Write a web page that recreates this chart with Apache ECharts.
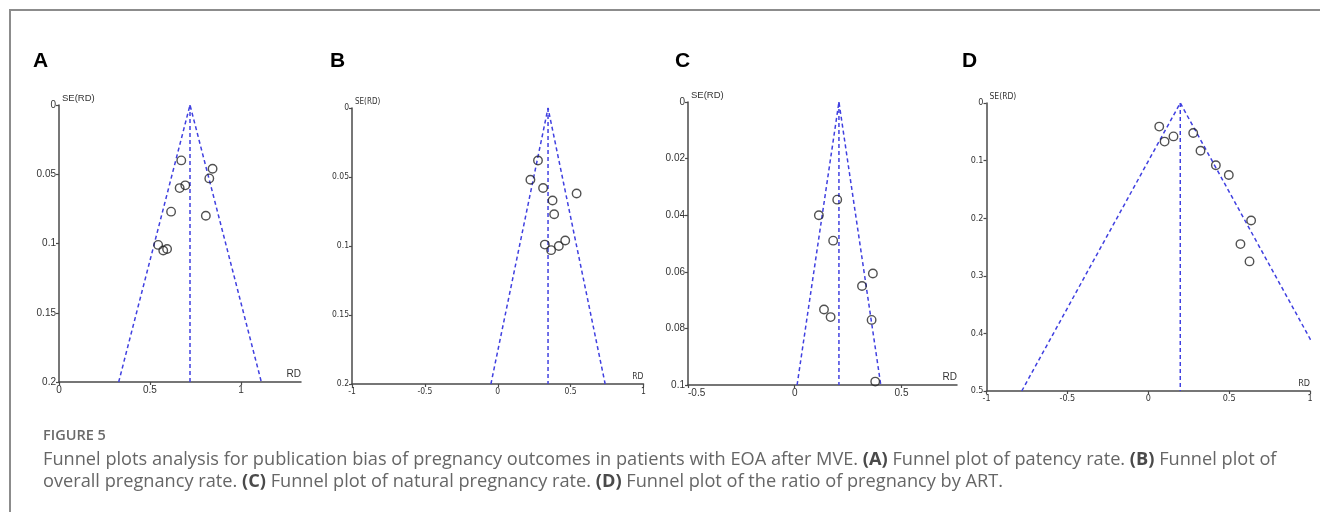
<!DOCTYPE html>
<html>
<head>
<meta charset="utf-8">
<script src="https://cdn.jsdelivr.net/npm/echarts@6/dist/echarts.min.js"></script>
<style>
html,body{margin:0;padding:0;background:#fff;}
#chart{width:1320px;height:512px;}
</style>
</head>
<body>
<div id="chart"></div>
<script>
// ---- Data ----
const panelLetters = ['A', 'B', 'C', 'D'];

const rdA = [0.672, 0.844, 0.826, 0.663, 0.694, 0.616, 0.807, 0.545, 0.573, 0.594];
const seA = [0.040, 0.046, 0.053, 0.060, 0.058, 0.077, 0.080, 0.101, 0.105, 0.104];

const rdB = [0.276, 0.224, 0.311, 0.376, 0.541, 0.387, 0.323, 0.366, 0.419, 0.463];
const seB = [0.038, 0.052, 0.058, 0.067, 0.062, 0.077, 0.099, 0.103, 0.100, 0.096];

const rdC = [0.199, 0.113, 0.180, 0.366, 0.315, 0.137, 0.168, 0.360, 0.377];
const seC = [0.0345, 0.040, 0.049, 0.0606, 0.065, 0.0733, 0.076, 0.077, 0.0988];

const rdD = [0.068, 0.101, 0.156, 0.278, 0.323, 0.418, 0.498, 0.636, 0.570, 0.626];
const seD = [0.041, 0.067, 0.058, 0.052, 0.083, 0.108, 0.125, 0.204, 0.245, 0.275];

const pooledRD = [0.72, 0.345, 0.207, 0.198];

const xMin = [0, -1, -0.5, -1];
const xMax = [1.33, 1, 0.76, 1];
const xInterval = [0.5, 0.5, 0.5, 0.5];
const yMax = [0.2, 0.2, 0.1, 0.5];
const yInterval = [0.05, 0.05, 0.02, 0.1];

const xAxisName = 'RD';
const yAxisName = 'SE(RD)';

const captionTitle = 'FIGURE 5';
const captionLine1 = [
  ['n', 'Funnel plots analysis for publication bias of pregnancy outcomes in patients with EOA after MVE. '],
  ['b', '(A)'], ['n', ' Funnel plot of patency rate. '],
  ['b', '(B)'], ['n', ' Funnel plot of']
];
const captionLine2 = [
  ['n', 'overall pregnancy rate. '],
  ['b', '(C)'], ['n', ' Funnel plot of natural pregnancy rate. '],
  ['b', '(D)'], ['n', ' Funnel plot of the ratio of pregnancy by ART.']
];

// ---- Layout / style ----
const grids = [
  {left: 59, top: 105, width: 242, height: 277},
  {left: 352, top: 108, width: 291.5, height: 276},
  {left: 688, top: 102, width: 269, height: 283},
  {left: 986.5, top: 103, width: 323.5, height: 288}
];
const letterPos = [[33, 51], [330, 51], [675, 51], [962, 51]];
const labelFont = [
  {fontFamily: 'Liberation Sans', fontSize: 10},
  {fontFamily: 'Liberation Sans Narrow, DejaVu Sans Condensed', fontSize: 8.5},
  {fontFamily: 'Liberation Sans', fontSize: 10},
  {fontFamily: 'Liberation Sans Narrow, DejaVu Sans Condensed', fontSize: 9}
];
const showMaxX = [false, true, false, true];

const rds = [rdA, rdB, rdC, rdD];
const ses = [seA, seB, seC, seD];

const axisColor = '#4a4a4a';
const funnelStyle = {color: '#4040e0', width: 1.5, type: [4, 3]};

const grid = [], xAxis = [], yAxis = [], series = [];
for (let i = 0; i < 4; i++) {
  grid.push(grids[i]);
  const lf = labelFont[i];
  xAxis.push({
    type: 'value', gridIndex: i, min: xMin[i], max: xMax[i], interval: xInterval[i],
    name: xAxisName, nameLocation: 'end', nameGap: 0,
    nameTextStyle: {align: 'right', verticalAlign: 'bottom', padding: [0, 0, 3, 0],
      color: '#333', fontFamily: lf.fontFamily, fontSize: lf.fontSize},
    axisLine: {show: true, onZero: false, lineStyle: {color: axisColor, width: 1.5}},
    axisTick: {show: true, length: 3, lineStyle: {color: axisColor, width: 1.2}},
    axisLabel: {show: true, margin: 3, color: '#333', fontFamily: lf.fontFamily, fontSize: lf.fontSize,
      showMaxLabel: showMaxX[i], alignMinLabel: i === 2 ? 'left' : null,
      formatter: v => String(+v.toFixed(3))},
    splitLine: {show: false}
  });
  yAxis.push({
    type: 'value', gridIndex: i, min: 0, max: yMax[i], interval: yInterval[i], inverse: true,
    name: yAxisName, nameLocation: 'start', nameGap: 2,
    nameTextStyle: {align: 'left', verticalAlign: 'bottom', padding: [0, 0, 0, 3],
      color: '#333', fontFamily: lf.fontFamily, fontSize: lf.fontSize - 0.5},
    axisLine: {show: true, onZero: false, lineStyle: {color: axisColor, width: 1.5}},
    axisTick: {show: true, length: 3, lineStyle: {color: axisColor, width: 1.2}},
    axisLabel: {show: true, margin: 3, color: '#333', fontFamily: lf.fontFamily, fontSize: lf.fontSize,
      formatter: v => String(+v.toFixed(3))},
    splitLine: {show: false}
  });
  const c = pooledRD[i], m = yMax[i];
  // funnel (pseudo 95% CI limits): RD ± 1.96·SE
  series.push({
    type: 'line', xAxisIndex: i, yAxisIndex: i, clip: true, symbol: 'none', silent: true,
    lineStyle: funnelStyle, z: 2,
    data: [[c - 1.96 * m, m], [c, 0], [c + 1.96 * m, m]]
  });
  series.push({
    type: 'line', xAxisIndex: i, yAxisIndex: i, clip: true, symbol: 'none', silent: true,
    lineStyle: funnelStyle, z: 2,
    data: [[c, 0], [c, m]]
  });
  series.push({
    type: 'scatter', xAxisIndex: i, yAxisIndex: i, symbol: 'circle', symbolSize: 8.5, z: 3,
    itemStyle: {color: 'rgba(255,255,255,0)', borderColor: '#262626', borderWidth: 1.4},
    data: rds[i].map((x, k) => [x, ses[i][k]])
  });
}

function richLine(parts) {
  return parts.map(p => '{' + p[0] + '|' + p[1] + '}').join('');
}
const captionFont = 'Open Sans';
const graphic = [
  {type: 'rect', shape: {x: 10, y: 10, width: 1400, height: 600}, silent: true,
   style: {fill: 'none', stroke: '#8c8c8c', lineWidth: 2}}
];
panelLetters.forEach((L, i) => {
  graphic.push({type: 'text', x: letterPos[i][0], y: letterPos[i][1],
    style: {text: L, font: 'bold 21px "Liberation Sans", Arial, sans-serif', fill: '#000'}});
});
graphic.push({type: 'text', x: 43, y: 428,
  style: {text: captionTitle, font: '600 14.5px "' + captionFont + '", sans-serif', fill: '#6a6a6a'}});
const rich = {
  n: {fontFamily: captionFont, fontSize: 18.2, fill: '#666'},
  b: {fontFamily: captionFont, fontSize: 18.2, fontWeight: 'bold', fill: '#4a4a4a'}
};
graphic.push({type: 'text', x: 43, y: 451, style: {text: richLine(captionLine1), rich: rich, fill: '#666'}});
graphic.push({type: 'text', x: 43, y: 473, style: {text: richLine(captionLine2), rich: rich, fill: '#666'}});

const chart = echarts.init(document.getElementById('chart'), null, {renderer: 'canvas'});
chart.setOption({
  animation: false,
  backgroundColor: '#fff',
  grid, xAxis, yAxis, series, graphic
});
</script>
</body>
</html>
